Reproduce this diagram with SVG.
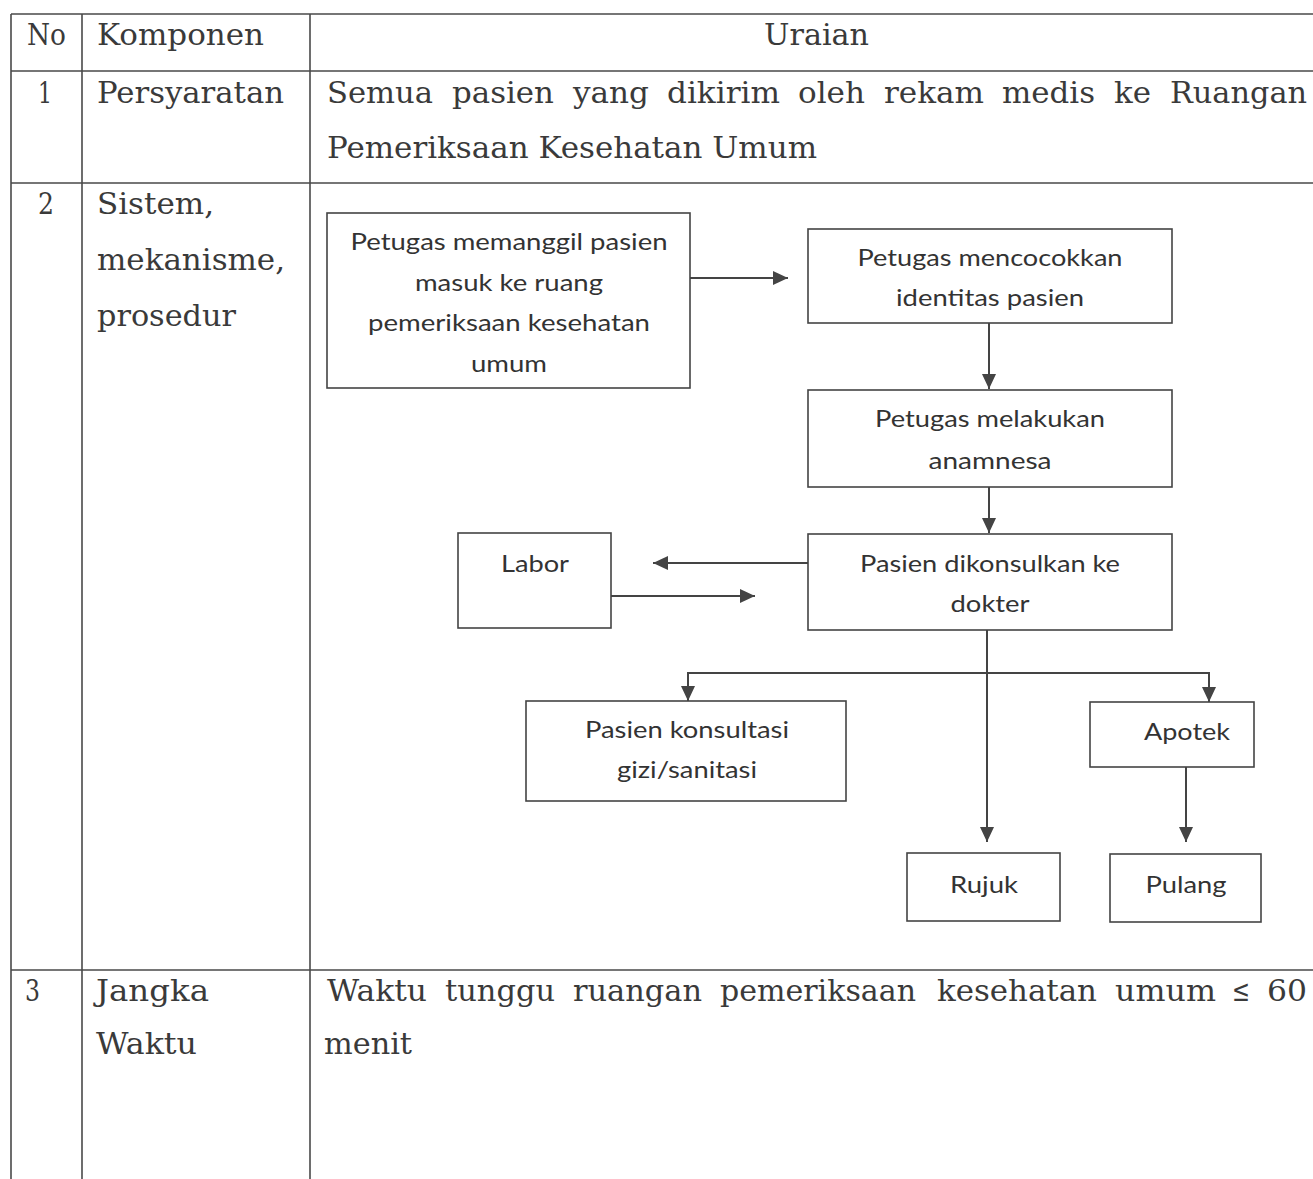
<svg xmlns="http://www.w3.org/2000/svg" width="1313" height="1179" viewBox="0 0 1313 1179">
<style>
.grid{stroke:#4a4a4a;stroke-width:1.6;fill:none}
.tt{font-family:"DejaVu Serif","Liberation Serif",serif;font-size:30px;fill:#3a3a3a}
.box{fill:#fff;stroke:#444;stroke-width:1.6}
.ft{font-family:Lato,"Open Sans","Liberation Sans",sans-serif;font-size:24px;fill:#333;text-anchor:middle}
.conn{stroke:#444;stroke-width:2;fill:none}
</style>
<defs>
<marker id="ah" markerUnits="userSpaceOnUse" markerWidth="16" markerHeight="14" refX="15" refY="7" orient="auto">
<path d="M0,0 L15,7 L0,14 z" fill="#444"/>
</marker>
</defs>
<rect width="1313" height="1179" fill="#fff"/>
<g id="table">
<path class="grid" d="M11,14 H1313 M11,71 H1313 M11,183 H1313 M11,970 H1313 M11,14 V1179 M82,14 V1179 M310,14 V1179"/>
<text class="tt" x="27" y="45" textLength="39" lengthAdjust="spacingAndGlyphs">No</text>
<text class="tt" x="97" y="45" textLength="167" lengthAdjust="spacingAndGlyphs">Komponen</text>
<text class="tt" x="764" y="45" textLength="105" lengthAdjust="spacingAndGlyphs">Uraian</text>
<text class="tt" x="38" y="103" textLength="14" lengthAdjust="spacingAndGlyphs">1</text>
<text class="tt" x="97" y="103" textLength="187" lengthAdjust="spacingAndGlyphs">Persyaratan</text>
<text class="tt" y="103"><tspan x="327" textLength="106" lengthAdjust="spacingAndGlyphs">Semua</tspan> <tspan x="452" textLength="102" lengthAdjust="spacingAndGlyphs">pasien</tspan> <tspan x="573" textLength="76" lengthAdjust="spacingAndGlyphs">yang</tspan> <tspan x="667" textLength="113" lengthAdjust="spacingAndGlyphs">dikirim</tspan> <tspan x="798" textLength="67" lengthAdjust="spacingAndGlyphs">oleh</tspan> <tspan x="884" textLength="100" lengthAdjust="spacingAndGlyphs">rekam</tspan> <tspan x="1002" textLength="93" lengthAdjust="spacingAndGlyphs">medis</tspan> <tspan x="1114" textLength="37" lengthAdjust="spacingAndGlyphs">ke</tspan> <tspan x="1170" textLength="137" lengthAdjust="spacingAndGlyphs">Ruangan</tspan></text>
<text class="tt" x="327" y="158" textLength="490" lengthAdjust="spacingAndGlyphs">Pemeriksaan Kesehatan Umum</text>
<text class="tt" x="38" y="214" textLength="16" lengthAdjust="spacingAndGlyphs">2</text>
<text class="tt" x="97" y="214" textLength="117" lengthAdjust="spacingAndGlyphs">Sistem,</text>
<text class="tt" x="97" y="270" textLength="188" lengthAdjust="spacingAndGlyphs">mekanisme,</text>
<text class="tt" x="97" y="326" textLength="139" lengthAdjust="spacingAndGlyphs">prosedur</text>
<text class="tt" x="25" y="1001" textLength="15" lengthAdjust="spacingAndGlyphs">3</text>
<text class="tt" x="96" y="1001" textLength="113" lengthAdjust="spacingAndGlyphs">Jangka</text>
<text class="tt" x="96" y="1054" textLength="101" lengthAdjust="spacingAndGlyphs">Waktu</text>
<text class="tt" y="1001"><tspan x="327" textLength="100" lengthAdjust="spacingAndGlyphs">Waktu</tspan> <tspan x="445" textLength="110" lengthAdjust="spacingAndGlyphs">tunggu</tspan> <tspan x="573" textLength="129" lengthAdjust="spacingAndGlyphs">ruangan</tspan> <tspan x="720" textLength="196" lengthAdjust="spacingAndGlyphs">pemeriksaan</tspan> <tspan x="937" textLength="160" lengthAdjust="spacingAndGlyphs">kesehatan</tspan> <tspan x="1115" textLength="101" lengthAdjust="spacingAndGlyphs">umum</tspan> <tspan x="1232" textLength="18" lengthAdjust="spacingAndGlyphs">≤</tspan> <tspan x="1267" textLength="40" lengthAdjust="spacingAndGlyphs">60</tspan></text>
<text class="tt" x="324" y="1054" textLength="88" lengthAdjust="spacingAndGlyphs">menit</text>
</g>
<g id="connectors">
<path class="conn" d="M690,278 H788" marker-end="url(#ah)"/>
<path class="conn" d="M989,323 V389" marker-end="url(#ah)"/>
<path class="conn" d="M989,487 V533" marker-end="url(#ah)"/>
<path class="conn" d="M808,563 H653" marker-end="url(#ah)"/>
<path class="conn" d="M611,596 H755" marker-end="url(#ah)"/>
<path class="conn" d="M987,630 V842" marker-end="url(#ah)"/>
<path class="conn" d="M987,673 H688 V701" marker-end="url(#ah)"/>
<path class="conn" d="M987,673 H1209 V702" marker-end="url(#ah)"/>
<path class="conn" d="M1186,767 V842" marker-end="url(#ah)"/>
</g>
<g id="n-panggil">
<rect class="box" x="327" y="213" width="363" height="175"/>
<text class="ft" x="509" y="250" textLength="317" lengthAdjust="spacingAndGlyphs">Petugas memanggil pasien</text>
<text class="ft" x="509" y="291" textLength="188" lengthAdjust="spacingAndGlyphs">masuk ke ruang</text>
<text class="ft" x="509" y="331" textLength="282" lengthAdjust="spacingAndGlyphs">pemeriksaan kesehatan</text>
<text class="ft" x="509" y="372" textLength="76" lengthAdjust="spacingAndGlyphs">umum</text>
</g>
<g id="n-cocok">
<rect class="box" x="808" y="229" width="364" height="94"/>
<text class="ft" x="990" y="266" textLength="265" lengthAdjust="spacingAndGlyphs">Petugas mencocokkan</text>
<text class="ft" x="990" y="306" textLength="188" lengthAdjust="spacingAndGlyphs">identitas pasien</text>
</g>
<g id="n-anamnesa">
<rect class="box" x="808" y="390" width="364" height="97"/>
<text class="ft" x="990" y="427" textLength="230" lengthAdjust="spacingAndGlyphs">Petugas melakukan</text>
<text class="ft" x="990" y="469" textLength="123" lengthAdjust="spacingAndGlyphs">anamnesa</text>
</g>
<g id="n-dokter">
<rect class="box" x="808" y="534" width="364" height="96"/>
<text class="ft" x="990" y="572" textLength="260" lengthAdjust="spacingAndGlyphs">Pasien dikonsulkan ke</text>
<text class="ft" x="990" y="612" textLength="79" lengthAdjust="spacingAndGlyphs">dokter</text>
</g>
<g id="n-labor">
<rect class="box" x="458" y="533" width="153" height="95"/>
<text class="ft" x="535" y="572" textLength="68" lengthAdjust="spacingAndGlyphs">Labor</text>
</g>
<g id="n-gizi">
<rect class="box" x="526" y="701" width="320" height="100"/>
<text class="ft" x="687" y="738" textLength="204" lengthAdjust="spacingAndGlyphs">Pasien konsultasi</text>
<text class="ft" x="687" y="778" textLength="140" lengthAdjust="spacingAndGlyphs">gizi/sanitasi</text>
</g>
<g id="n-apotek">
<rect class="box" x="1090" y="702" width="164" height="65"/>
<text class="ft" x="1187" y="740" textLength="86" lengthAdjust="spacingAndGlyphs">Apotek</text>
</g>
<g id="n-rujuk">
<rect class="box" x="907" y="853" width="153" height="68"/>
<text class="ft" x="984" y="893" textLength="68" lengthAdjust="spacingAndGlyphs">Rujuk</text>
</g>
<g id="n-pulang">
<rect class="box" x="1110" y="854" width="151" height="68"/>
<text class="ft" x="1186" y="893" textLength="81" lengthAdjust="spacingAndGlyphs">Pulang</text>
</g>
</svg>
